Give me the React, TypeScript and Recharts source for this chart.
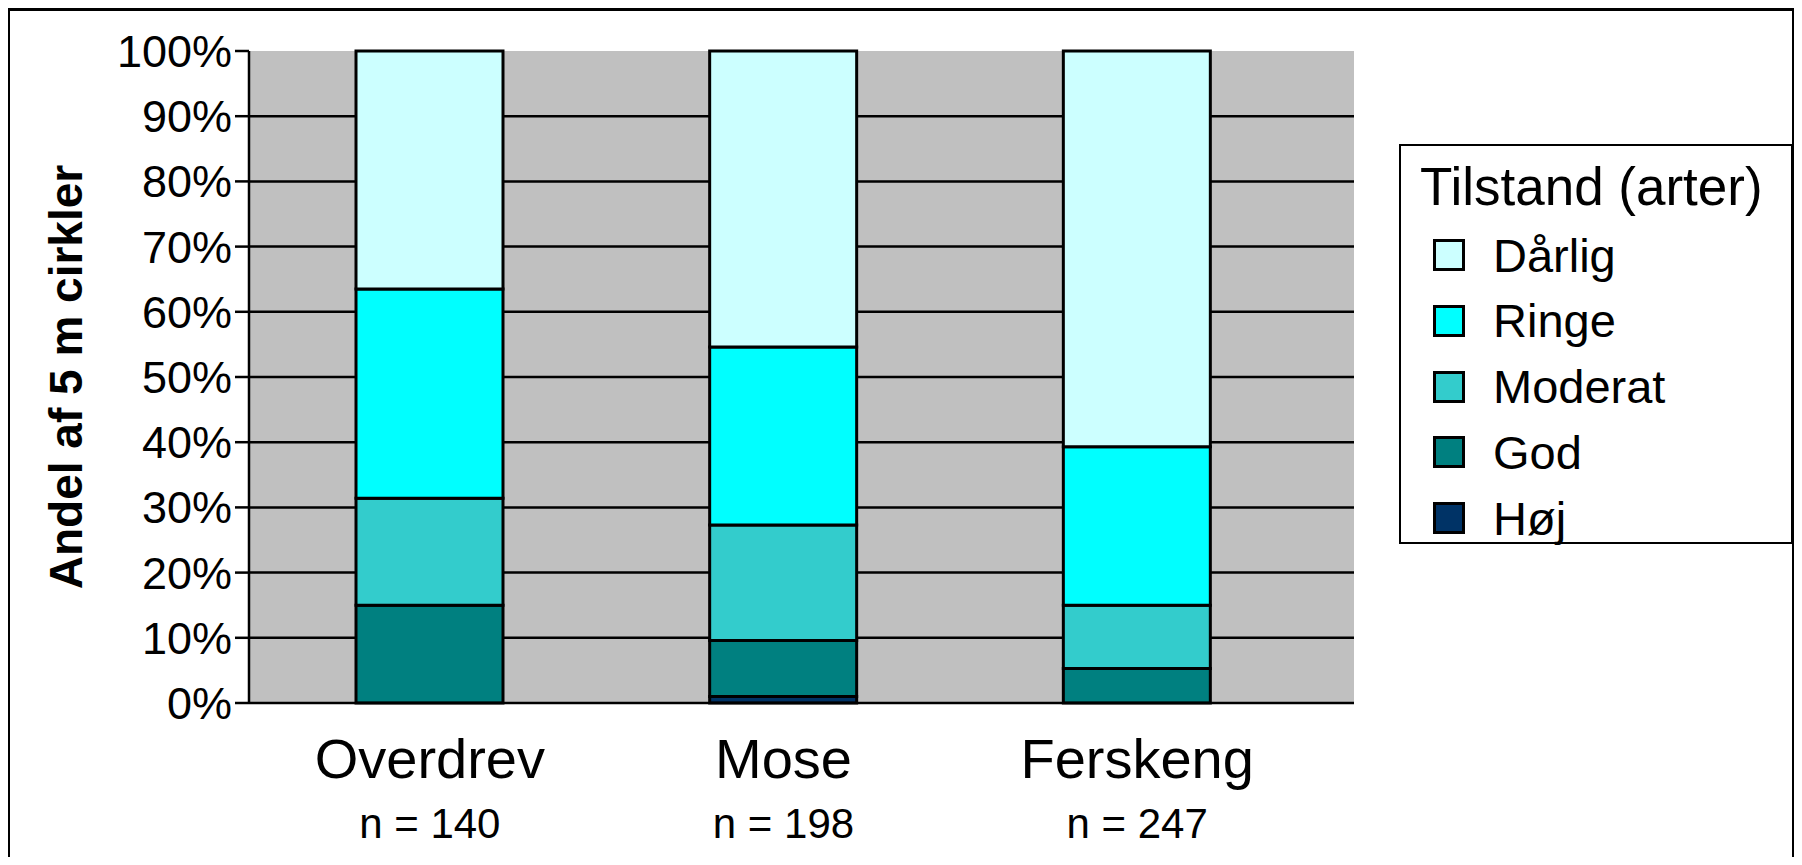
import React from 'react';
import { BarChart, Bar, XAxis, YAxis, CartesianGrid, Legend } from 'recharts';

const FONT = '"Liberation Sans", Arial, Helvetica, sans-serif';

// Categories and sample sizes
const categories = ['Overdrev', 'Mose', 'Ferskeng'];
const sampleSizes = ['n = 140', 'n = 198', 'n = 247'];

// Share of 5 m circles per condition class (%), bottom to top
const hoj = [0, 1.0, 0];
const god = [15.0, 8.6, 5.3];
const moderat = [16.4, 17.7, 9.7];
const ringe = [32.1, 27.3, 24.3];
const darlig = [36.5, 45.4, 60.7];

// Axis ticks
const yTicks = [0, 10, 20, 30, 40, 50, 60, 70, 80, 90, 100];
const gridValues = [10, 20, 30, 40, 50, 60, 70, 80, 90];

const seriesNames = ['Høj', 'God', 'Moderat', 'Ringe', 'Dårlig'];
const seriesColors = ['#003366', '#008080', '#33CCCC', '#00FFFF', '#CCFFFF'];
const seriesValues = [hoj, god, moderat, ringe, darlig];
const legendOrder = ['Dårlig', 'Ringe', 'Moderat', 'God', 'Høj'];

const data = categories.map((name, i) => {
  const row: Record<string, any> = { name };
  seriesNames.forEach((s, k) => {
    row[s] = seriesValues[k][i];
  });
  return row;
});

const XTick = (props: any) => {
  const { x, y, payload } = props;
  const idx = categories.indexOf(payload.value);
  return (
    <g>
      <text x={x} y={y + 75} textAnchor="middle" fontSize={56} fontFamily={FONT} fill="#000">
        {payload.value}
      </text>
      <text x={x} y={y + 135} textAnchor="middle" fontSize={42} fontFamily={FONT} fill="#000">
        {sampleSizes[idx]}
      </text>
    </g>
  );
};

const YTitle = (props: any) => {
  const vb = props.viewBox || { x: 0, y: 0, width: 0, height: 0 };
  const cx = vb.x + 58;
  const cy = vb.y + vb.height / 2;
  return (
    <text
      x={cx}
      y={cy}
      transform={`rotate(-90, ${cx}, ${cy})`}
      textAnchor="middle"
      dominantBaseline="central"
      fontSize={46}
      fontWeight="bold"
      fontFamily={FONT}
      fill="#000"
    >
      Andel af 5 m cirkler
    </text>
  );
};

const renderLegend = (props: any) => {
  const payload: any[] = props.payload || [];
  const ordered = legendOrder.map(
    (n) => payload.find((p) => p.value === n) || { value: n, color: seriesColors[seriesNames.indexOf(n)] }
  );
  return (
    <div
      style={{
        position: 'relative',
        width: 394,
        height: 400,
        boxSizing: 'border-box',
        border: '2px solid #000',
        background: '#fff',
        fontFamily: FONT,
        color: '#000',
      }}
    >
      <div style={{ position: 'absolute', left: 19, top: 14, fontSize: 53, lineHeight: 1, whiteSpace: 'nowrap' }}>
        Tilstand (arter)
      </div>
      {ordered.map((p: any, i: number) => (
        <div
          key={p.value}
          style={{
            position: 'absolute',
            left: 32,
            top: 109 + i * 65.75 - 16,
            height: 32,
            display: 'flex',
            alignItems: 'center',
            whiteSpace: 'nowrap',
          }}
        >
          <span
            style={{
              display: 'inline-block',
              width: 32,
              height: 32,
              boxSizing: 'border-box',
              border: '3px solid #000',
              background: p.color,
            }}
          />
          <span style={{ marginLeft: 28, fontSize: 47, lineHeight: 1 }}>{p.value}</span>
        </div>
      ))}
    </div>
  );
};

export default function App() {
  return (
    <div style={{ position: 'relative', width: 1786, height: 857, marginBottom: -8, background: '#fff' }}>
      <div
        style={{
          position: 'absolute',
          left: 0,
          top: 0,
          width: 1786,
          height: 857,
          boxSizing: 'border-box',
          borderTop: '3px solid #000',
          borderLeft: '2px solid #000',
          borderRight: '2px solid #000',
        }}
      />
      <div style={{ position: 'absolute', left: 0, top: 0 }}>
        <BarChart
          width={1786}
          height={857}
          data={data}
          margin={{ top: 43, right: 440, bottom: 0, left: 0 }}
          barSize={147}
        >
          <CartesianGrid
            vertical={false}
            horizontalValues={gridValues}
            fill="#C0C0C0"
            fillOpacity={1}
            stroke="#000"
            strokeWidth={2.5}
          />
          <XAxis
            dataKey="name"
            height={162}
            interval={0}
            tickLine={false}
            tickSize={0}
            tickMargin={0}
            axisLine={{ stroke: '#000', strokeWidth: 2.5 }}
            padding={{ left: 4, right: 40 }}
            tick={<XTick />}
          />
          <YAxis
            width={241}
            domain={[0, 100]}
            ticks={yTicks}
            interval={0}
            tickFormatter={(v: number) => `${v}%`}
            tick={{ fontSize: 45, fill: '#000', fontFamily: FONT }}
            tickSize={14}
            tickMargin={3}
            tickLine={{ stroke: '#000', strokeWidth: 2.5 }}
            axisLine={{ stroke: '#000', strokeWidth: 2.5 }}
            label={<YTitle />}
          />
          <Legend
            layout="vertical"
            align="center"
            verticalAlign="middle"
            content={renderLegend}
            wrapperStyle={{ left: 1391, top: 136, width: 394, height: 400 }}
          />
          {seriesNames.map((s, k) => (
            <Bar
              key={s}
              dataKey={s}
              name={s}
              stackId="a"
              fill={seriesColors[k]}
              stroke="#000"
              strokeWidth={3}
              isAnimationActive={false}
            />
          ))}
        </BarChart>
      </div>
    </div>
  );
}
